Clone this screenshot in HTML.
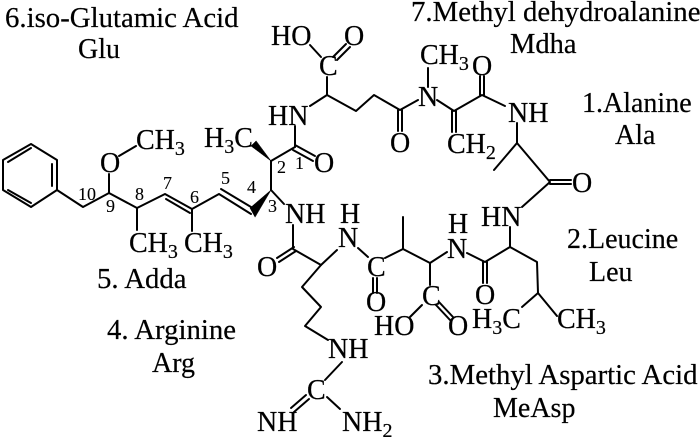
<!DOCTYPE html>
<html><head><meta charset="utf-8"><style>
html,body{margin:0;padding:0;background:#fff;width:700px;height:437px;overflow:hidden}
svg{display:block}
text{font-family:"Liberation Serif",serif;font-size:28px;fill:#000;stroke:#000;stroke-width:.2}
.n{font-size:18px;stroke-width:.1}
.s{font-size:20px}
.l{font-size:28.8px}
line,polyline,polygon{stroke:#000;stroke-width:2;fill:none;stroke-linecap:round;stroke-linejoin:round}
.w{fill:#000;stroke:#000;stroke-width:.5}
</style></head><body>
<svg width="700" height="437" viewBox="0 0 700 437" xmlns="http://www.w3.org/2000/svg">
<!-- benzene -->
<polygon points="31,144 57,160 57,190 31,207 3,190 3,160"/>
<line x1="52" y1="164" x2="52" y2="186"/><line x1="8" y1="162" x2="31" y2="148"/><line x1="8" y1="190" x2="31" y2="203"/>
<!-- Adda chain -->
<polyline points="57,190 83,207 109,193 137,208 165,194 192,209 219,194 251,214"/>
<line x1="166" y1="199" x2="190" y2="213"/><line x1="221" y1="189" x2="251" y2="207"/>
<line x1="109" y1="193" x2="109" y2="174"/>
<line x1="119" y1="156" x2="136" y2="146"/>
<line x1="137" y1="208" x2="137" y2="230"/><line x1="192" y1="209" x2="192" y2="231"/>
<polygon class="w" points="271,190 250,208 255,217"/>
<polygon class="w" points="271,161 251,146 256,141"/>
<line x1="271" y1="190" x2="271" y2="161"/>
<line x1="271" y1="161" x2="295" y2="147"/>
<line x1="295" y1="147" x2="295" y2="126"/>
<line x1="295" y1="145" x2="315" y2="156"/><line x1="293" y1="150" x2="313" y2="161"/>
<line x1="271" y1="190" x2="284" y2="204"/>
<!-- Glu -->
<polyline points="310,106 327,95 356,111 374,95 400,110 418,100"/>
<line x1="327" y1="95" x2="327" y2="77"/>
<line x1="310" y1="45" x2="321" y2="57"/>
<line x1="333" y1="57" x2="346" y2="44"/><line x1="337" y1="60" x2="350" y2="47"/>
<line x1="398" y1="110" x2="398" y2="131"/><line x1="402" y1="110" x2="402" y2="131"/>
<!-- Mdha -->
<line x1="428" y1="68" x2="428" y2="87"/>
<polyline points="437,100 454,111 482,95 505,106"/>
<line x1="452" y1="111" x2="452" y2="132"/><line x1="456" y1="111" x2="456" y2="132"/>
<line x1="480" y1="95" x2="480" y2="76"/><line x1="484" y1="95" x2="484" y2="76"/>
<!-- Ala -->
<polyline points="517,123 517,143 550,182 522,207"/>
<line x1="517" y1="143" x2="494" y2="170"/>
<line x1="550" y1="180" x2="571" y2="180"/><line x1="550" y1="184" x2="571" y2="184"/>
<!-- Leu -->
<line x1="510" y1="227" x2="510" y2="247"/>
<polyline points="467,253 485,262 510,247 537,262 538,293 557,316"/>
<line x1="538" y1="293" x2="522" y2="307"/>
<line x1="483" y1="262" x2="483" y2="283"/><line x1="487" y1="262" x2="487" y2="283"/>
<!-- MeAsp -->
<polyline points="447,252 430,263 403,249 385,258"/>
<line x1="403" y1="249" x2="403" y2="217"/>
<line x1="430" y1="263" x2="430" y2="285"/>
<line x1="422" y1="305" x2="410" y2="317"/>
<line x1="436" y1="305" x2="450" y2="320"/><line x1="439" y1="302" x2="453" y2="317"/>
<line x1="373" y1="278" x2="373" y2="293"/><line x1="377" y1="278" x2="377" y2="293"/>
<line x1="368" y1="257" x2="358" y2="248"/>
<!-- Arg -->
<polyline points="337,250 321,265 293,249 293,225"/>
<line x1="294" y1="247" x2="277" y2="258"/><line x1="296" y1="251" x2="279" y2="262"/>
<polyline points="321,265 302,287 321,307 305,326 328,340"/>
<line x1="342" y1="362" x2="325" y2="380"/>
<line x1="327" y1="397" x2="340" y2="409"/>
<line x1="306" y1="395" x2="291" y2="408"/><line x1="309" y1="399" x2="294" y2="412"/>

<!-- atoms -->
<text x="100" y="172">O</text>
<text x="136" y="149">CH<tspan class="s" dy="6">3</tspan></text>
<text x="204" y="147">H<tspan class="s" dy="6">3</tspan><tspan dy="-6">C</tspan></text>
<text x="268" y="125">HN</text>
<text x="314" y="172">O</text>
<text x="285" y="223">NH</text>
<text x="129" y="252">CH<tspan class="s" dy="6">3</tspan></text>
<text x="184" y="252">CH<tspan class="s" dy="6">3</tspan></text>
<text class="n" x="78" y="200">10</text>
<text class="n" x="106" y="212">9</text>
<text class="n" x="135" y="200">8</text>
<text class="n" x="163" y="189">7</text>
<text class="n" x="190" y="203">6</text>
<text class="n" x="221" y="184">5</text>
<text class="n" x="247" y="193">4</text>
<text class="n" x="268" y="212">3</text>
<text class="n" x="277" y="173">2</text>
<text class="n" x="295" y="169">1</text>
<text x="271" y="45">HO</text>
<text x="344" y="45">O</text>
<text x="319" y="75">C</text>
<text x="390" y="152">O</text>
<text x="418" y="106">N</text>
<text x="420" y="64">CH<tspan class="s" dy="6">3</tspan></text>
<text x="447" y="153">CH<tspan class="s" dy="6">2</tspan></text>
<text x="472" y="75">O</text>
<text x="508" y="122">NH</text>
<text x="572" y="192">O</text>
<text x="481" y="226">HN</text>
<text x="475" y="304">O</text>
<text x="447" y="258">N</text>
<text x="448" y="233">H</text>
<text x="472" y="328">H<tspan class="s" dy="6">3</tspan><tspan dy="-6">C</tspan></text>
<text x="557" y="328">CH<tspan class="s" dy="6">3</tspan></text>
<text x="367" y="276">C</text>
<text x="366" y="311">O</text>
<text x="338" y="247">N</text>
<text x="340" y="223">H</text>
<text x="257" y="276">O</text>
<text x="328" y="358">NH</text>
<text x="307" y="399">C</text>
<text x="342" y="431">NH<tspan class="s" dy="6">2</tspan></text>
<text x="257" y="431">NH</text>
<text x="422" y="305">C</text>
<text x="374" y="335">HO</text>
<text x="448" y="335">O</text>

<!-- labels -->
<text class="l" x="5" y="27">6.iso-Glutamic Acid</text>
<text x="78" y="58">Glu</text>
<text class="l" x="411" y="21">7.Methyl dehydroalanine</text>
<text x="510" y="53" style="font-size:28.5px">Mdha</text>
<text x="582" y="112">1.Alanine</text>
<text x="615" y="144">Ala</text>
<text x="567" y="248">2.Leucine</text>
<text x="589" y="281">Leu</text>
<text class="l" x="428" y="384">3.Methyl Aspartic Acid</text>
<text x="493" y="417">MeAsp</text>
<text class="l" x="97" y="288">5. Adda</text>
<text class="l" x="107" y="339">4. Arginine</text>
<text x="152" y="372">Arg</text>
</svg>
</body></html>
